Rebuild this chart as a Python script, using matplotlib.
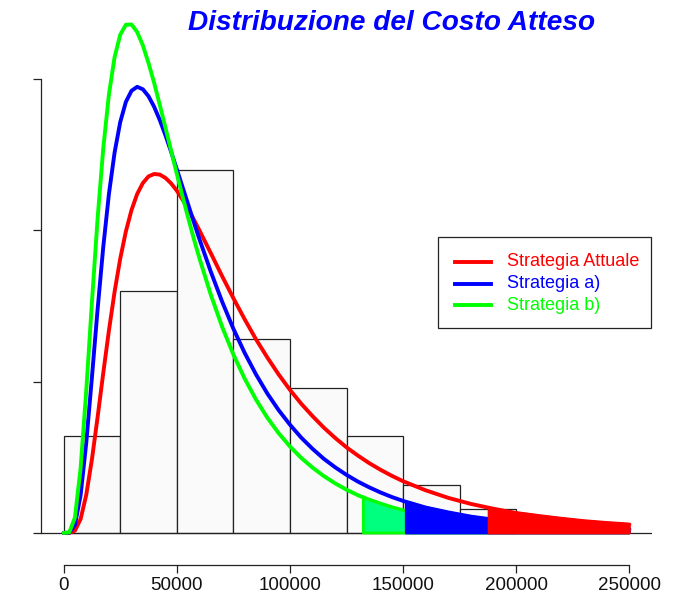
import matplotlib
matplotlib.use("Agg")
import matplotlib.pyplot as plt
from matplotlib.patches import Rectangle
from matplotlib.lines import Line2D

# grid of costs (EUR) where the densities were read
cost = [0, 2500, 5000, 7500, 10000, 12500, 15000, 17500, 20000, 22500, 25000, 27500,
        30000, 32500, 35000, 37500, 40000, 42500, 45000, 47500, 50000, 52500, 55000,
        57500, 60000, 65000, 70000, 75000, 80000, 85000, 90000, 95000, 100000, 105000,
        110000, 115000, 120000, 125000, 130000, 135000, 140000, 145000, 150000, 160000,
        170000, 180000, 190000, 200000, 210000, 220000, 230000, 240000, 250000]

# densities in units of 1e-6
dens_attuale = [0.0, 0.0, 0.08, 0.46, 1.26, 2.43, 3.82, 5.28, 6.68, 7.96, 9.06, 9.96, 10.67,
                11.2, 11.56, 11.78, 11.86, 11.84, 11.73, 11.55, 11.31, 11.02, 10.7, 10.36, 10.0,
                9.25, 8.49, 7.76, 7.06, 6.4, 5.8, 5.24, 4.73, 4.27, 3.86, 3.48, 3.14, 2.83, 2.56,
                2.31, 2.09, 1.89, 1.71, 1.41, 1.16, 0.96, 0.8, 0.66, 0.56, 0.47, 0.39, 0.33, 0.28]
dens_a = [0.0, 0.01, 0.27, 1.25, 2.98, 5.14, 7.38, 9.44, 11.19, 12.56, 13.57, 14.24, 14.61,
          14.74, 14.66, 14.43, 14.08, 13.64, 13.14, 12.59, 12.02, 11.44, 10.86, 10.28, 9.71,
          8.64, 7.65, 6.75, 5.95, 5.24, 4.61, 4.06, 3.58, 3.15, 2.78, 2.45, 2.17, 1.92, 1.7,
          1.51, 1.34, 1.19, 1.06, 0.84, 0.68, 0.54, 0.44, 0.36, 0.29, 0.24, 0.2, 0.16, 0.13]
dens_b = [0.0, 0.02, 0.51, 2.14, 4.71, 7.62, 10.38, 12.7, 14.48, 15.71, 16.46, 16.79, 16.8,
          16.55, 16.11, 15.53, 14.87, 14.14, 13.39, 12.63, 11.87, 11.13, 10.42, 9.73, 9.08,
          7.88, 6.82, 5.9, 5.1, 4.41, 3.81, 3.3, 2.86, 2.48, 2.16, 1.88, 1.64, 1.43, 1.25,
          1.1, 0.97, 0.85, 0.75, 0.58, 0.46, 0.36, 0.29, 0.23, 0.19, 0.15, 0.12, 0.1, 0.08]

# 95th percentile of each strategy and density there
q95 = {"Strategia Attuale": (187995, 0.827), "Strategia a)": (151417, 1.027),
       "Strategia b)": (132445, 1.176)}

# histogram of simulated costs
bin_edges = [0, 25000, 50000, 75000, 100000, 125000, 150000, 175000, 200000]
counts = [4, 10, 15, 8, 6, 4, 2, 1]

labels = ["Strategia Attuale", "Strategia a)", "Strategia b)"]
line_cols = ["#FF0000", "#0000FF", "#00FF00"]
fill_cols = ["#FF0000", "#0000FF", "#00FF7F"]
xticks = [0, 50000, 100000, 150000, 200000, 250000]

plt.rcParams["font.family"] = ["Liberation Sans", "DejaVu Sans"]
W, H = 685, 595
fig = plt.figure(figsize=(W / 100, H / 100), dpi=100)
ax = fig.add_axes([41 / W, 1 - 565 / H, 611 / W, 555 / H])

n = sum(counts)
width = bin_edges[1] - bin_edges[0]
heights = [k / (n * width) * 1e6 for k in counts]
ax.bar(bin_edges[:-1], heights, width=width, align="edge", facecolor="#FAFAFA",
       edgecolor="#222222", linewidth=0.9, zorder=1)
ax.axhline(0, color="#222222", linewidth=0.9, zorder=1.5)

curves = [dens_attuale, dens_a, dens_b]
for d, col in zip(curves, line_cols):
    ax.plot(cost, d, color=col, linewidth=2.8, zorder=3, solid_capstyle="round")

# shade the upper 5% tail, green first so the others sit on top
for lab, d, lc, fc in list(zip(labels, curves, line_cols, fill_cols))[::-1]:
    q, fq = q95[lab]
    px = [q, q] + [x for x in cost if x > q] + [cost[-1]]
    py = [0, fq] + [y for x, y in zip(cost, d) if x > q] + [0]
    ax.fill(px, py, facecolor=fc, edgecolor=lc, linewidth=2.0, joinstyle="round", zorder=4)

ax.set_xlim(-10000, 260000)
ax.set_ylim(-(565 - 533) / 30.27, (533 - 10) / 30.27)
for side in ["top", "right"]:
    ax.spines[side].set_visible(False)
ax.spines["left"].set_bounds(0, 15)
ax.spines["bottom"].set_bounds(0, 250000)
for side in ["left", "bottom"]:
    ax.spines[side].set_color("#222222")
    ax.spines[side].set_linewidth(0.9)
ax.set_yticks([0, 5, 10, 15])
ax.set_yticklabels([])
ax.set_xticks(xticks)
ax.set_xticklabels([str(t) for t in xticks])
ax.tick_params(direction="out", length=6, width=0.9, color="#222222",
               labelsize=13.5, pad=3, labelcolor="#111111")
ax.set_facecolor("none")

# legend box drawn by hand, in pixel coordinates of the figure
def fx(px):
    return px / W

def fy(py):
    return 1 - py / H

fig.patches.append(Rectangle((fx(438), fy(328)), fx(651) - fx(438), fy(237) - fy(328),
                             transform=fig.transFigure, facecolor="white",
                             edgecolor="#222222", linewidth=0.9, zorder=5))
for i, (lab, col) in enumerate(zip(labels, line_cols)):
    yy = 262 + i * 21.5
    fig.lines.append(Line2D([fx(455), fx(491)], [fy(yy), fy(yy)], color=col,
                            linewidth=2.8, transform=fig.transFigure, zorder=6))
    fig.text(fx(507), fy(yy), lab, color=col, fontsize=13, va="center", ha="left", zorder=6)

fig.text(fx(391.5), fy(30), "Distribuzione del Costo Atteso", color="#0000FF",
         fontsize=20.2, fontweight="bold", fontstyle="italic", ha="center", va="baseline")

fig.savefig("out.png")
